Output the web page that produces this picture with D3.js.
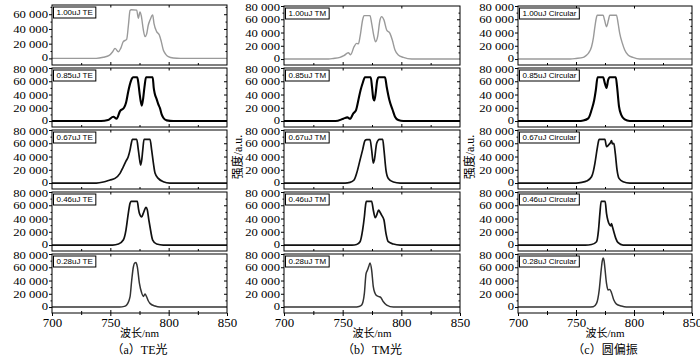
<!DOCTYPE html>
<html><head><meta charset="utf-8">
<script src="https://cdn.jsdelivr.net/npm/d3@7"></script>
<style>
html,body{margin:0;padding:0;background:#fff;}
svg{display:block;}
</style></head><body>
<svg id="chart" width="700" height="356"></svg>
<script>
// ---------- categories / labels ----------
const energies = ["1.00uJ", "0.85uJ", "0.67uJ", "0.46uJ", "0.28uJ"];
const modes = ["TE", "TM", "Circular"];
const captions = ["（a）TE光", "（b）TM光", "（c）圆偏振"];
const xLabel = "波长/nm";
const yLabel = "强度/a.u.";
const xTicks = [700, 750, 800, 850];
const xMinorTicks = [725, 775, 825];
const yTicks = [0, 20000, 40000, 60000, 80000];
const yMinorTicks = [10000, 30000, 50000, 70000];

// ---------- series: [wavelength nm, intensity a.u.] ----------
const te100 = [[700,0],[738,0],[744,1500],[749,4000],[752,9000],[754,13600],[756.9,9000],[759,14000],[761.1,22700],[764,25900],[765.5,45000],[766.9,65000],[768,66000],[772.6,65500],[774,54500],[775.4,63000],[776.5,58000],[778.3,38600],[779.7,29500],[781.1,33000],[782.5,45000],[784,52000],[786.3,59000],[787.4,47700],[789.7,36400],[792,31800],[793.5,24000],[795.4,11400],[797.5,5500],[799.7,2300],[804,500],[810,0],[850,0]];
const te085 = [[700,0],[742,0],[748,1500],[752.6,6500],[755.4,3500],[758.3,15000],[761.7,20000],[763.5,28000],[765.4,45000],[767.4,59000],[768.5,64000],[769.5,66000],[773.1,66000],[774.2,55000],[775,43000],[776.9,23000],[778.2,35000],[779.3,52000],[780.6,66000],[786.3,66000],[787.2,50000],[788,42000],[789.7,33000],[791,26000],[792.6,19000],[794,10000],[795.4,5000],[798.3,1000],[804,0],[850,0]];
const te067 = [[700,0],[738,0],[744,1500],[749.7,4500],[754,7000],[758.3,14600],[761,24000],[763.4,33000],[765.4,40000],[766.9,50000],[768,60000],[768.9,66000],[772.6,66000],[774,50000],[775.4,32000],[776,27000],[777,36000],[777.7,48000],[778.9,66000],[784,66000],[785.4,50000],[786.9,30000],[788.3,15000],[791.1,7000],[795.4,2000],[801,0],[850,0]];
const te046 = [[700,0],[752,0],[757,1500],[761.1,7500],[763.4,22600],[765.4,47800],[766.9,62900],[767.7,66000],[773.1,66000],[774.1,55000],[774.9,48000],[776.9,42500],[778.3,48000],[780.6,57000],[781.7,53000],[783,38000],[784,27600],[786.3,7500],[789.7,1500],[795.4,0],[850,0]];
const te028 = [[700,0],[758,0],[762,1000],[764,3000],[766.9,15600],[768.3,40000],[769.7,60000],[771,66500],[771.9,67000],[773.1,61000],[774.9,36000],[776.9,21000],[778.3,16000],[779.7,19500],[781.1,15500],[782.5,9500],[784,5500],[788.3,1500],[792.6,0],[850,0]];

const tm100 = [[700,0],[738,0],[742,800],[747.7,2500],[751,5000],[754.8,9500],[756.8,6500],[759.7,18600],[761.9,23600],[763.4,23000],[764.8,33700],[767,58900],[768.2,65500],[773.3,65500],[774.7,53800],[776.7,33700],[778.1,26000],[779.8,33700],[781.8,58900],[783.2,64000],[785.2,58900],[787.5,43800],[790.3,38700],[792.3,28700],[794.6,13600],[797.4,6000],[801.7,2500],[808.8,0],[850,0]];
const tm085 = [[700,0],[744,0],[750.6,3500],[754,5500],[756.3,3500],[759.1,11600],[761.4,16600],[763.4,31700],[765.3,46800],[767,57000],[769,66000],[773.9,66000],[775,51800],[776.1,34000],[777,31000],[778.1,41800],[779.5,62000],[780.7,66000],[786.1,66000],[787.5,51800],[789.8,31700],[792.6,16600],[794.6,6500],[797.4,1500],[801.7,0],[850,0]];
const tm067 = [[700,0],[752,0],[756.3,1000],[759.7,4500],[761.9,14600],[764.8,34700],[767,50000],[769,64000],[770.5,65500],[773.3,65500],[774.7,50000],[776.1,30000],[777,34700],[779,60000],[781.3,66000],[784.1,66000],[785.2,50000],[786.9,19600],[788.9,7000],[793.2,1500],[798.9,0],[850,0]];
const tm046 = [[700,0],[758,0],[761.9,800],[764.8,5000],[767,22600],[768.5,42700],[769.5,60000],[770.2,66000],[774.7,66000],[776.1,52800],[777.8,41200],[779,45200],[780.7,52800],[782,49000],[783.2,45200],[785.2,37700],[786.9,17600],[788.9,5000],[793.2,1500],[798.9,0],[850,0]];
const tm028 = [[700,0],[760,0],[764,800],[766.2,3000],[768.5,20600],[769.9,50000],[771,55000],[772.2,61000],[773.3,66500],[774.7,55800],[776.1,30700],[777.5,21000],[778.4,18000],[780.4,16000],[782.4,14600],[784.7,8000],[787.5,3000],[793.2,0],[850,0]];

const circ100 = [[700,0],[745,0],[750,800],[756.3,2500],[758.5,5000],[760.6,8500],[763.4,18600],[765,32000],[766.3,48800],[767.3,60000],[768.3,66000],[773.4,66000],[774.6,59000],[776.3,48800],[778,59000],[779.1,66000],[784.9,66000],[786.3,53800],[787.7,38700],[790,23600],[792,13600],[794.9,6000],[799.1,2500],[804.9,0],[850,0]];
const circ085 = [[700,0],[752,0],[756.3,800],[760.6,4000],[763.4,16600],[765.7,31700],[767.1,46800],[768.6,66000],[773.4,66000],[774.9,56800],[776.3,50000],[777.7,61800],[779.1,66000],[784.3,66000],[785.4,51800],[787.1,21600],[789.1,9000],[792,2500],[796.3,0],[850,0]];
const circ067 = [[700,0],[750,0],[755,1000],[759.1,3000],[763.4,9500],[765,18000],[766.3,29700],[768.3,52300],[769.4,63000],[770,66000],[774.9,66000],[776.3,54800],[778,57300],[779.7,60800],[780.6,64000],[781.4,59000],[782.6,60000],[783.7,47300],[785.4,19600],[787.1,7000],[790.6,2000],[796.3,0],[850,0]];
const circ046 = [[700,0],[758,0],[763.4,800],[767.7,5000],[769.4,22600],[770.6,47800],[771.7,66000],[775.1,66000],[776.3,47800],[777.4,37700],[779.1,30200],[780,29000],[780.6,32500],[781.4,27700],[782.6,20100],[784.3,10000],[786.3,3500],[790.6,0],[850,0]];
const circ028 = [[700,0],[760,0],[764.9,500],[767.7,5500],[770,25600],[771.7,55800],[772.7,70000],[773.4,74000],[774.2,70000],[774.9,59000],[776.3,35700],[777.7,25600],[779.1,26600],[780.6,21600],[782.6,10500],[784.9,4500],[789.1,1500],[793.4,0],[850,0]];

const series = [
  [te100, te085, te067, te046, te028],
  [tm100, tm085, tm067, tm046, tm028],
  [circ100, circ085, circ067, circ046, circ028]
];

// ---------- layout / style ----------
const cols = [{x0:52,x1:227,ylab:null},{x0:284,x1:460,ylab:238},{x0:518,x1:692,ylab:470}];
const lineColors = ["#9a9a9a", "#000", "#111", "#111", "#333"];
const lineWidths = [1.4, 2.1, 1.7, 1.7, 1.5];
const serif = "'Liberation Serif','Times New Roman',serif";
const cjk = "'Liberation Serif','Noto Sans CJK SC',serif";
const sans = "'Liberation Sans',Arial,sans-serif";
const fmt = v => d3.format(",")(v).replace(/,/g, " ");

const svg = d3.select("#chart");
const defs = svg.append("defs");

function stretch(sel, k) {
  sel.each(function () {
    const w = this.getComputedTextLength();
    d3.select(this).attr("textLength", w * k).attr("lengthAdjust", "spacingAndGlyphs");
  });
}
function cleanAxis(g) { g.select(".domain").remove(); g.selectAll("line").attr("stroke", "#000"); }

series.forEach((colData, c) => {
  const {x0, x1, ylab} = cols[c];
  const x = d3.scaleLinear().domain([700, 850]).range([x0, x1]);

  colData.forEach((data, r) => {
    const top = 6 + 62 * r, bot = top + 59;
    const special = (c === 0 && r === 0);
    const boxTop = special ? 5 : top;
    const y = d3.scaleLinear().domain([-9000, 80000]).range([bot, special ? -0.5 : top]);
    const g = svg.append("g");

    const id = `clip${c}_${r}`;
    defs.append("clipPath").attr("id", id).append("rect")
      .attr("x", x0).attr("y", boxTop).attr("width", x1 - x0).attr("height", bot - boxTop);

    // left axis (major labelled, outward)
    const ya = g.append("g").attr("transform", `translate(${x0},0)`)
      .call(d3.axisLeft(y).tickValues(special ? yTicks.filter(v => v < 80000) : yTicks)
        .tickFormat(fmt).tickSize(3).tickPadding(1));
    cleanAxis(ya);
    ya.selectAll("text").attr("font-family", serif).attr("font-size", 11).attr("fill", "#000")
      .attr("dy", d => d === 0 ? "0.22em" : (d === 80000 ? "0.42em" : "0.32em"));
    stretch(ya.selectAll("text"), 1.15);
    const ym = g.append("g").attr("transform", `translate(${x0},0)`)
      .call(d3.axisLeft(y).tickValues(yMinorTicks).tickFormat("").tickSize(1.5));
    cleanAxis(ym);
    // right axis inward ticks
    const yr = g.append("g").attr("transform", `translate(${x1},0)`)
      .call(d3.axisLeft(y).tickValues(yTicks.slice(1, 4)).tickFormat("").tickSize(3));
    cleanAxis(yr);
    const yr2 = g.append("g").attr("transform", `translate(${x1},0)`)
      .call(d3.axisLeft(y).tickValues(yMinorTicks).tickFormat("").tickSize(1.5));
    cleanAxis(yr2);

    // inward x ticks at bottom and top of panel
    const xb = g.append("g").attr("transform", `translate(0,${bot})`)
      .call(d3.axisTop(x).tickValues([750, 800]).tickFormat("").tickSize(3));
    cleanAxis(xb);
    const xbm = g.append("g").attr("transform", `translate(0,${bot})`)
      .call(d3.axisTop(x).tickValues(xMinorTicks).tickFormat("").tickSize(2));
    cleanAxis(xbm);
    const xt = g.append("g").attr("transform", `translate(0,${boxTop})`)
      .call(d3.axisBottom(x).tickValues([750, 800]).tickFormat("").tickSize(2.5));
    cleanAxis(xt);

    if (r === 4) {
      const xa = g.append("g").attr("transform", `translate(0,${bot})`)
        .call(d3.axisBottom(x).tickValues(xTicks).tickSize(3).tickPadding(3).tickFormat(d3.format("d")));
      cleanAxis(xa);
      xa.selectAll("text").attr("font-family", serif).attr("font-size", 11.5).attr("fill", "#000");
      stretch(xa.selectAll("text"), 1.12);
      const xam = g.append("g").attr("transform", `translate(0,${bot})`)
        .call(d3.axisBottom(x).tickValues(xMinorTicks).tickFormat("").tickSize(2));
      cleanAxis(xam);
    }

    // curve
    g.append("path").datum(data)
      .attr("clip-path", `url(#${id})`)
      .attr("fill", "none")
      .attr("stroke", lineColors[r])
      .attr("stroke-width", lineWidths[r])
      .attr("stroke-linejoin", "round")
      .attr("d", d3.line().x(d => x(d[0])).y(d => y(d[1])).curve(d3.curveMonotoneX));

    // frame
    g.append("rect").attr("x", x0).attr("y", boxTop).attr("width", x1 - x0).attr("height", bot - boxTop)
      .attr("fill", "none").attr("stroke", "#000").attr("stroke-width", 1);

    // legend box
    const lg = g.append("g").attr("transform", `translate(${x0 + 1.5},${boxTop + 2})`);
    const lt = lg.append("text").attr("x", 3).attr("y", 8.3)
      .attr("font-family", sans).attr("font-size", 8).attr("fill", "#000")
      .text(`${energies[r]} ${modes[c]}`);
    const tw = lt.node().getComputedTextLength();
    lg.insert("rect", "text").attr("x", 0).attr("y", 0).attr("width", tw + 6).attr("height", 11)
      .attr("fill", "#fff").attr("stroke", "#000").attr("stroke-width", 1);
  });

  const cx = (x0 + x1) / 2;
  svg.append("text").attr("x", cx).attr("y", 337).attr("text-anchor", "middle")
    .attr("font-family", cjk).attr("font-size", 11).attr("fill", "#000").text(xLabel);
  svg.append("text").attr("x", cx).attr("y", 354).attr("text-anchor", "middle")
    .attr("font-family", cjk).attr("font-size", 12).attr("fill", "#000").text(captions[c]);
  if (ylab !== null) {
    svg.append("text").attr("transform", `translate(${ylab},157) rotate(-90)`)
      .attr("text-anchor", "middle").attr("dy", "0.35em")
      .attr("font-family", cjk).attr("font-size", 12).attr("fill", "#000").text(yLabel);
  }
});
</script>
</body></html>
